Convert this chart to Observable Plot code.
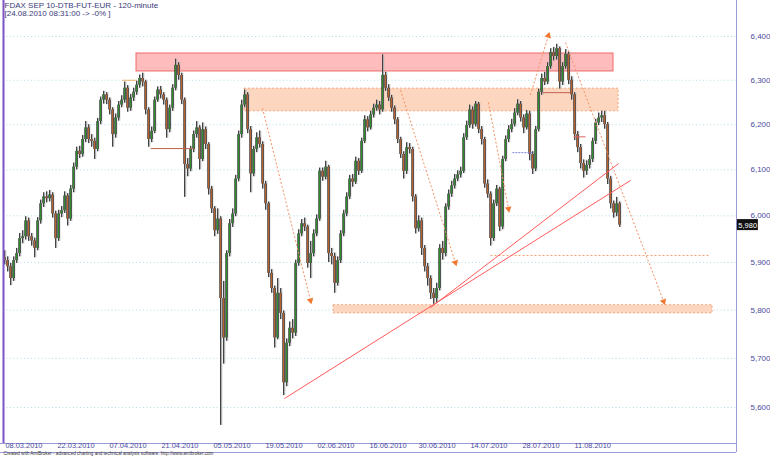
<!DOCTYPE html>
<html><head><meta charset="utf-8">
<script src="https://cdn.jsdelivr.net/npm/d3@7"></script>
<script src="https://cdn.jsdelivr.net/npm/@observablehq/plot@0.6"></script>
<style>body{margin:0;background:#fff;} #chart svg{display:block;}</style>
</head><body><div id="chart"></div>
<script>
// ---- candle data (120-minute FDAX, sampled) ----
const firstOpen = 5910;
const closes = [
5904,5891,5866,5904,5919,5951,5955,5989,5955,5946,
5930,5989,6026,6041,6037,6045,6004,5951,6004,6011,
6043,5993,6058,6106,6141,6134,6167,6193,6167,6163,
6145,6207,6255,6267,6255,6233,6178,6215,6244,6255,
6282,6237,6260,6273,6289,6304,6296,6233,6167,6185,
6255,6278,6267,6255,6189,6237,6282,6334,6311,6255,
6112,6102,6145,6178,6193,6123,6189,6156,6058,6015,
5968,5993,5824,5742,5919,5983,6004,6080,6178,6244,
6267,6189,6091,6145,6171,6156,6069,6026,5877,5845,
5742,5835,5793,5650,5731,5762,5752,5898,5961,5983,
5976,5898,5919,5961,5993,6097,6084,6106,5919,5913,
5856,5904,5961,6004,6041,6080,6073,6119,6097,6163,
6211,6193,6222,6237,6244,6233,6311,6282,6260,6237,
6211,6167,6134,6097,6149,6145,6041,5972,5989,5930,
5891,5866,5835,5824,5845,5930,5919,6019,6047,6065,
6080,6089,6097,6171,6198,6233,6200,6246,6189,6167,
6069,6047,5951,6026,6058,5976,6123,6167,6189,6200,
6226,6246,6215,6193,6224,6134,6102,6189,6273,6304,
6296,6331,6363,6354,6372,6296,6331,6359,6300,6267,
6178,6149,6114,6097,6110,6123,6163,6204,6215,6220,
6200,6080,6026,6006,6026,5980];
const highs = [
5925,5912,5898,5912,5930,5962,5968,5998,5995,5962,
5952,5996,6034,6050,6052,6055,6050,6010,6012,6020,
6052,6048,6066,6115,6150,6152,6176,6207,6200,6178,
6170,6214,6262,6275,6272,6260,6238,6224,6252,6265,
6296,6288,6268,6282,6298,6312,6316,6300,6238,6195,
6262,6285,6286,6272,6260,6244,6290,6348,6340,6316,
6260,6125,6152,6186,6207,6198,6204,6195,6160,6064,
6020,6015,5998,5860,5925,5992,6015,6088,6186,6255,
6278,6272,6196,6152,6182,6186,6162,6075,6030,5885,
5850,5866,5845,5798,5740,5775,5780,5905,5970,5992,
5995,5980,5945,5970,6002,6104,6104,6119,6110,5930,
5920,5912,5968,6012,6050,6088,6090,6128,6125,6170,
6220,6218,6230,6246,6255,6252,6358,6318,6290,6266,
6242,6216,6172,6140,6160,6158,6150,6046,6000,5995,
5936,5898,5872,5845,5856,5938,5945,6026,6056,6075,
6090,6098,6106,6180,6208,6244,6240,6252,6250,6196,
6172,6078,6052,6034,6066,6062,6130,6175,6198,6212,
6236,6256,6252,6222,6232,6230,6140,6196,6280,6314,
6318,6340,6372,6375,6382,6376,6340,6370,6364,6308,
6272,6185,6156,6122,6120,6132,6170,6212,6226,6230,
6230,6205,6086,6032,6040,6030];
const lows = [
5895,5880,5851,5860,5898,5912,5940,5948,5945,5935,
5910,5925,5982,6018,6028,6030,5995,5930,5945,5996,
6005,5978,5988,6050,6100,6125,6128,6160,6158,6150,
6123,6140,6200,6246,6245,6222,6150,6170,6208,6238,
6248,6228,6230,6252,6266,6282,6285,6222,6150,6160,
6180,6250,6258,6244,6170,6182,6230,6276,6300,6245,
6040,6085,6096,6138,6170,6100,6118,6145,6045,6005,
5955,5960,5564,5688,5735,5912,5975,5998,6074,6170,
6238,6180,6050,6085,6138,6148,6058,6012,5868,5835,
5721,5738,5780,5624,5642,5724,5740,5745,5892,5955,
5966,5888,5866,5912,5955,5988,6075,6078,5900,5895,
5835,5850,5898,5955,5998,6035,6062,6068,6088,6092,
6158,6184,6188,6215,6230,6222,6228,6275,6252,6228,
6200,6158,6125,6080,6090,6135,6030,5961,5965,5915,
5880,5850,5822,5812,5816,5840,5905,5912,6012,6040,
6058,6074,6082,6092,6165,6192,6190,6195,6180,6155,
6060,6038,5935,5945,6020,5966,5970,6118,6160,6182,
6195,6220,6206,6180,6188,6120,6090,6096,6184,6266,
6288,6290,6325,6344,6346,6280,6288,6325,6290,6255,
6165,6138,6102,6082,6088,6102,6116,6156,6198,6205,
6190,6068,6015,5995,5998,5975];

// ---- axes ----
const yTicks = [5600, 5700, 5800, 5900, 6000, 6100, 6200, 6300, 6400];
const dateTickPos = [0.33, 17.67, 35, 52.33, 69.67, 87, 104.33, 121.67, 138, 155.33, 172.67, 190];
const dateLabels = ["08.03.2010","22.03.2010","07.04.2010","21.04.2010","05.05.2010","19.05.2010",
  "02.06.2010","16.06.2010","30.06.2010","14.07.2010","28.07.2010","11.08.2010"];
const titleLines = ["FDAX SEP 10-DTB-FUT-EUR - 120-minute", "[24.08.2010 08:31:00 -> -0% ]"];
const footer = "Created with AmiBroker - advanced charting and technical analysis software. http://www.amibroker.com";

// ---- drawn annotations ----
const zoneX1 = [44, 80, 109.7];
const zoneX2 = [203, 204.7, 236];
const zoneLo = [6320, 6230, 5793];
const zoneHi = [6361, 6281, 5810];
const supportX = [162, 234.7], supportPrice = 5915;
const levelX1 = [39.3, 48.7, 179.3, 189.7];
const levelX2 = [44, 63, 188.7, 193.7];
const levelPrice = [6300, 6147, 6272, 6173];
const levelColor = ["#f5b070", "#c06050", "#c06050", "#e06060"];
const blueLevelX = [169.3, 176.3], blueLevelPrice = 6138;
const trendX1 = [93.3, 142], trendY1 = [5618, 5805];
const trendX2 = [208.7, 204.7], trendY2 = [6077, 6114];
const arrowX1 = [86, 132, 161.3, 175.3, 187];
const arrowY1 = [6237, 6278, 6250, 6267, 6386];
const arrowX2 = [102, 150.3, 168, 181.3, 219.7];
const arrowY2 = [5820, 5900, 6015, 6402, 5818];

// ---- build ----
const W = 770, H = 458, mL = 3, mR = 34, mT = 0, mB = 15;
const xDomain = [-1/3, 244];
const yDomain = [5527.9, 6483.5];
const bars = closes.map((c, i) => {
  const open = i ? closes[i-1] : firstOpen;
  return {i, open, close: c, high: Math.max(highs[i], open, c), low: Math.min(lows[i], open, c)};
});
const up = bars.filter(d => d.close >= d.open);
const down = bars.filter(d => d.close < d.open);
const zones = zoneX1.map((x1, k) => ({x1, x2: zoneX2[k], lo: zoneLo[k], hi: zoneHi[k]}));
const levels = levelX1.map((x1, k) => ({x1, x2: levelX2[k], p: levelPrice[k], c: levelColor[k]}));
const trends = trendX1.map((x1, k) => ({x1, y1: trendY1[k], x2: trendX2[k], y2: trendY2[k]}));
const arrows = arrowX1.map((x1, k) => ({x1, y1: arrowY1[k], x2: arrowX2[k], y2: arrowY2[k]}));

const sx = Plot.scale({x: {domain: xDomain, range: [mL, W - mR]}});
const sy = Plot.scale({y: {type: "log", domain: yDomain, range: [H - mB, mT]}});
arrows.forEach(a => {
  const dx = sx.apply(a.x2) - sx.apply(a.x1), dy = sy.apply(a.y2) - sy.apply(a.y1);
  a.rot = Math.atan2(dx, -dy) * 180 / Math.PI;
});
const kpx = (H - mB - mT) / Math.log(yDomain[1] / yDomain[0]);
const lastClose = closes[closes.length - 1];
const labelColor = "#4a4aa0";

const chart = Plot.plot({
  width: W, height: H, marginLeft: mL, marginRight: mR, marginTop: mT, marginBottom: mB,
  style: {fontFamily: "'Liberation Sans', Arial, sans-serif", fontSize: "8px", background: "#fff", overflow: "visible"},
  x: {domain: xDomain, axis: null},
  y: {type: "log", domain: yDomain},
  marks: [
    Plot.gridY(yTicks, {stroke: "#b4dce6", strokeOpacity: 1, strokeDasharray: "1,2.5"}),
    Plot.rect(zones.slice(0,1), {x1: "x1", x2: "x2", y1: "lo", y2: "hi", fill: "#ffbcbc", stroke: "#ee6a6a", strokeWidth: 1}),
    Plot.rect(zones.slice(1), {x1: "x1", x2: "x2", y1: "lo", y2: "hi", fill: "#fdd6c0", stroke: "#f4a67c", strokeWidth: 1, strokeDasharray: "2,2"}),
    Plot.link([supportPrice], {x1: supportX[0], x2: supportX[1], y1: d => d, y2: d => d, stroke: "#f4a070", strokeDasharray: "2,2"}),
    // candles
    Plot.ruleX(bars, {x: "i", y1: "low", y2: "high", stroke: "#b0b0b0", strokeWidth: 1.5, dx: 1}),
    Plot.ruleX(bars, {x: "i", y1: "low", y2: "high", stroke: "#303030", strokeWidth: 0.9}),
    Plot.ruleX(bars, {x: "i", y1: "open", y2: "close", stroke: "#222", strokeWidth: 2.3}),
    Plot.ruleX(up, {x: "i", y1: "open", y2: "close", stroke: "#2f8c2f", strokeWidth: 1.2}),
    Plot.ruleX(down, {x: "i", y1: "open", y2: "close", stroke: "#b8602e", strokeWidth: 1.2}),
    // levels
    Plot.link(levels, {x1: "x1", x2: "x2", y1: "p", y2: "p", stroke: "c", strokeWidth: 1}),
    Plot.link([blueLevelPrice], {x1: blueLevelX[0], x2: blueLevelX[1], y1: d => d, y2: d => d, stroke: "#8080e0", strokeDasharray: "2,1"}),
    // trend lines
    Plot.link(trends, {x1: "x1", y1: "y1", x2: "x2", y2: "y2", stroke: "#ff5a5a", strokeWidth: 1}),
    // projection arrows
    Plot.link(arrows, {x1: "x1", y1: "y1", x2: "x2", y2: "y2", stroke: "#f59060", strokeWidth: 1, strokeDasharray: "2,2"}),
    Plot.dot(arrows, {x: "x2", y: "y2", rotate: "rot", symbol: "triangle2", r: 3.2, fill: "#f07830", stroke: "none"}),
    // frame
    Plot.ruleX([xDomain[0]], {stroke: "#7b55c8", strokeWidth: 2}),
    Plot.ruleX([xDomain[1]], {stroke: "#9c9cd8", strokeWidth: 1, insetBottom: -9}),
    Plot.ruleY([yDomain[0]], {stroke: "#9c9cd8", insetLeft: -3}),
    Plot.ruleY([yDomain[0]], {stroke: "#9c9cd8", insetLeft: -3, dy: 9}),
    Plot.axisY(yTicks, {anchor: "right", tickSize: 0, tickPadding: 14, tickFormat: d3.format(","), fontSize: 8, color: labelColor, label: null}),
    Plot.text(dateLabels, {x: (d, k) => dateTickPos[k], text: d => d, frameAnchor: "bottom", dy: 4.5, textAnchor: "start", fontSize: 7.4, fill: labelColor}),
    Plot.text([titleLines.join("\n")], {frameAnchor: "top-left", dx: 1, dy: 1.5, lineAnchor: "top", textAnchor: "start", fontSize: 8, lineHeight: 1.05, fill: "#3a3a78"}),
    Plot.text([footer], {frameAnchor: "bottom-left", dy: 11.5, textAnchor: "start", fontSize: 4.6, fill: "#333"}),
    // last price marker
    Plot.rect([lastClose], {x1: xDomain[1] + 0.3, x2: xDomain[1] + 7.3, y1: d => d * Math.exp(-5.5 / kpx), y2: d => d * Math.exp(5.5 / kpx), fill: "#111"}),
    Plot.text([lastClose], {x: xDomain[1] + 0.6, y: d => d, text: d => d3.format(",")(d), textAnchor: "start", fill: "#fff", fontSize: 7.5})
  ]
});
document.getElementById("chart").appendChild(chart);
</script>
</body></html>
